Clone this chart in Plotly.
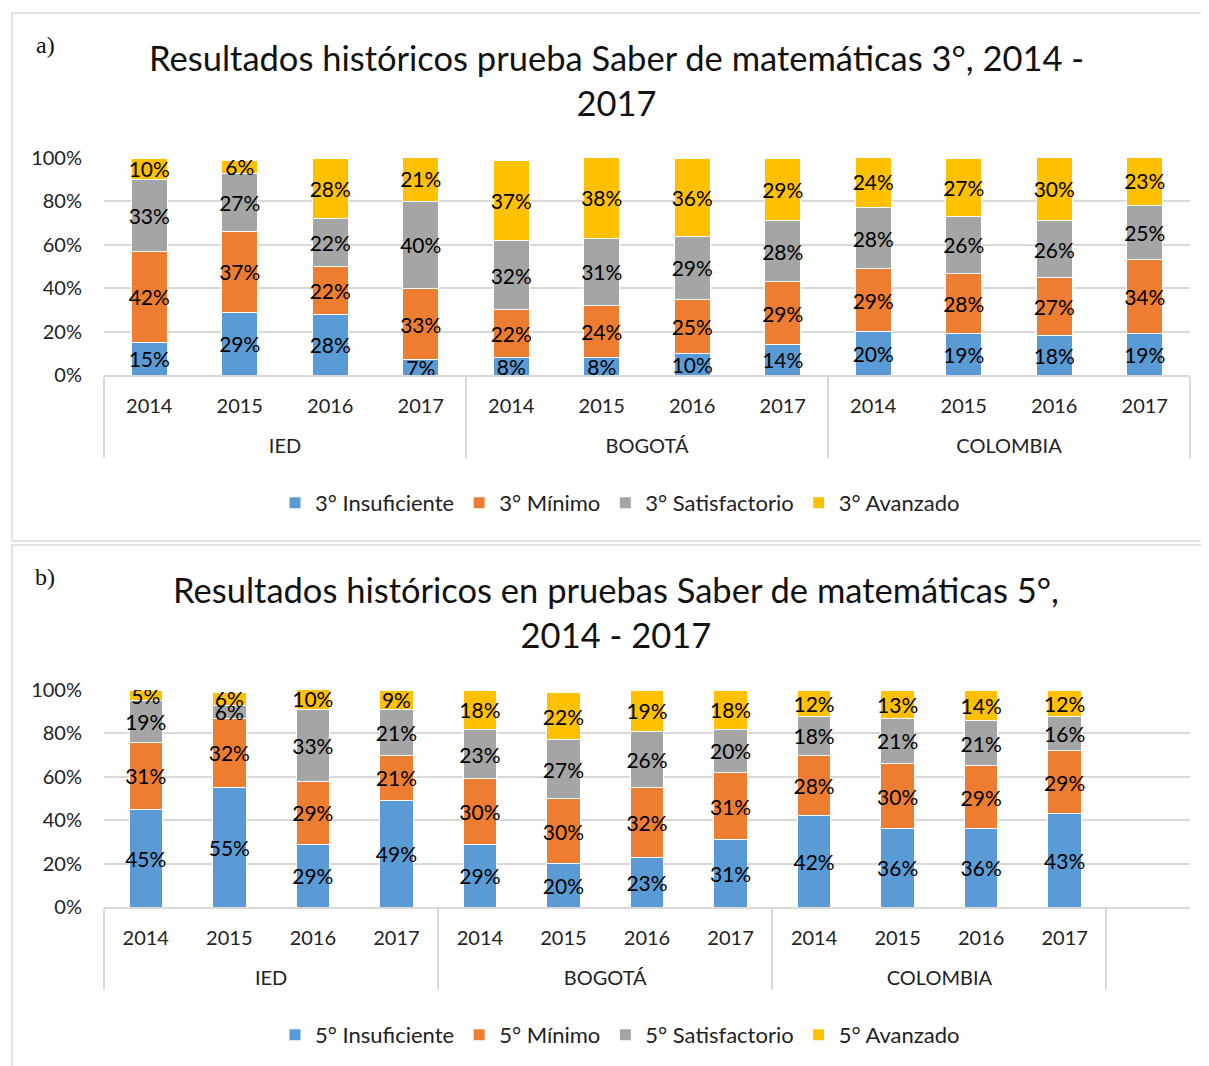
import plotly.graph_objects as go

GROUPS = ["IED", "BOGOTÁ", "COLOMBIA"]
YEARS = ["2014", "2015", "2016", "2017"]

# grade 3 (chart a), values in % per year within each group
G3_INSUFICIENTE = [15, 29, 28, 7, 8, 8, 10, 14, 20, 19, 18, 19]
G3_MINIMO = [42, 37, 22, 33, 22, 24, 25, 29, 29, 28, 27, 34]
G3_SATISFACTORIO = [33, 27, 22, 40, 32, 31, 29, 28, 28, 26, 26, 25]
G3_AVANZADO = [10, 6, 28, 21, 37, 38, 36, 29, 24, 27, 30, 23]

# grade 5 (chart b)
G5_INSUFICIENTE = [45, 55, 29, 49, 29, 20, 23, 31, 42, 36, 36, 43]
G5_MINIMO = [31, 32, 29, 21, 30, 30, 32, 31, 28, 30, 29, 29]
G5_SATISFACTORIO = [19, 6, 33, 21, 23, 27, 26, 20, 18, 21, 21, 16]
G5_AVANZADO = [5, 6, 10, 9, 18, 22, 19, 18, 12, 13, 14, 12]

LEVELS = ["Insuficiente", "Mínimo", "Satisfactorio", "Avanzado"]
COLORS = ["#5B9BD5", "#ED7D31", "#A5A5A5", "#FFC000"]

W, H = 1209, 1066
OFF = 8  # page body margin in the browser
FONT = "Lato, 'Liberation Sans', sans-serif"
GRID = "#d9d9d9"

# empty first line pushes the group label further below the years
x_multi = [["<br>" + g for g in GROUPS for _ in YEARS], YEARS * len(GROUPS)]


def px(x):
    return (x - OFF) / W


def py(y):
    return 1 - (y - OFF) / H


fig = go.Figure()

series_sets = [
    ("3°", [G3_INSUFICIENTE, G3_MINIMO, G3_SATISFACTORIO, G3_AVANZADO], "x", "y", "legend"),
    ("5°", [G5_INSUFICIENTE, G5_MINIMO, G5_SATISFACTORIO, G5_AVANZADO], "x2", "y2", "legend2"),
]
for grade, series, xa, ya, lg in series_sets:
    for level, vals, color in zip(LEVELS, series, COLORS):
        fig.add_trace(
            go.Bar(
                x=x_multi,
                y=[v / 100 for v in vals],
                name=f"{grade} {level}",
                marker=dict(color=color, line=dict(color="white", width=1)),
                texttemplate="%{y:.0%}",
                textposition="inside",
                insidetextanchor="middle",
                textangle=0,
                constraintext="none",
                textfont=dict(color="black", size=21, family=FONT),
                xaxis=xa,
                yaxis=ya,
                legend=lg,
                hovertemplate="%{y:.0%}<extra>%{fullData.name}</extra>",
            )
        )

axis_x = dict(
    type="multicategory",
    showline=True,
    linecolor=GRID,
    linewidth=1.5,
    showgrid=False,
    showdividers=True,
    dividercolor=GRID,
    dividerwidth=1.5,
    ticks="",
    ticklabelstandoff=12,
    tickfont=dict(size=20, family=FONT, color="#222"),
    automargin=False,
)
axis_y = dict(
    range=[0, 1],
    tickformat=".0%",
    dtick=0.2,
    showgrid=True,
    gridcolor=GRID,
    gridwidth=1.5,
    zeroline=False,
    showline=False,
    ticks="",
    ticklabelstandoff=21,
    tickfont=dict(size=20, family=FONT, color="#222"),
    automargin=False,
)

x_dom = [px(104), px(1190)]
legend_style = dict(
    orientation="h", xanchor="center", yanchor="middle",
    font=dict(size=22, family=FONT), traceorder="normal",
)
fig.update_layout(
    width=W,
    height=H,
    margin=dict(l=0, r=0, t=0, b=0),
    paper_bgcolor="white",
    plot_bgcolor="white",
    barmode="stack",
    bargap=0.6,
    font=dict(family=FONT, size=20, color="#222"),
    xaxis=dict(axis_x, domain=x_dom, anchor="y"),
    yaxis=dict(axis_y, domain=[py(375), py(158)], anchor="x"),
    xaxis2=dict(axis_x, domain=x_dom, anchor="y2", range=[-0.5, 12.5]),
    yaxis2=dict(axis_y, domain=[py(907), py(690)], anchor="x2"),
    legend=dict(legend_style, x=px(620), y=py(503)),
    legend2=dict(legend_style, x=px(620), y=py(1035)),
    showlegend=True,
)

# chart frames
fig.add_shape(type="rect", xref="paper", yref="paper", x0=px(12), x1=1.02,
              y0=py(541), y1=py(13), line=dict(color=GRID, width=1.5))
fig.add_shape(type="rect", xref="paper", yref="paper", x0=px(12), x1=1.02,
              y0=-0.02, y1=py(545), line=dict(color=GRID, width=1.5))

# titles
fig.add_annotation(
    text="Resultados históricos prueba Saber de matemáticas 3°, 2014 -<br>2017",
    xref="paper", yref="paper", x=px(616), y=py(80), xanchor="center", yanchor="middle",
    showarrow=False, font=dict(size=34.5, family=FONT, color="#111"),
)
fig.add_annotation(
    text="Resultados históricos en pruebas Saber de matemáticas 5°,<br>2014 - 2017",
    xref="paper", yref="paper", x=px(616), y=py(612), xanchor="center", yanchor="middle",
    showarrow=False, font=dict(size=34.5, family=FONT, color="#111"),
)
for lbl, ypx in [("a)", 45), ("b)", 577)]:
    fig.add_annotation(
        text=lbl, xref="paper", yref="paper", x=px(45), y=py(ypx),
        xanchor="center", yanchor="middle", showarrow=False,
        font=dict(size=24, family="'Liberation Serif', serif", color="#111"),
    )

fig.write_html("out.html")
